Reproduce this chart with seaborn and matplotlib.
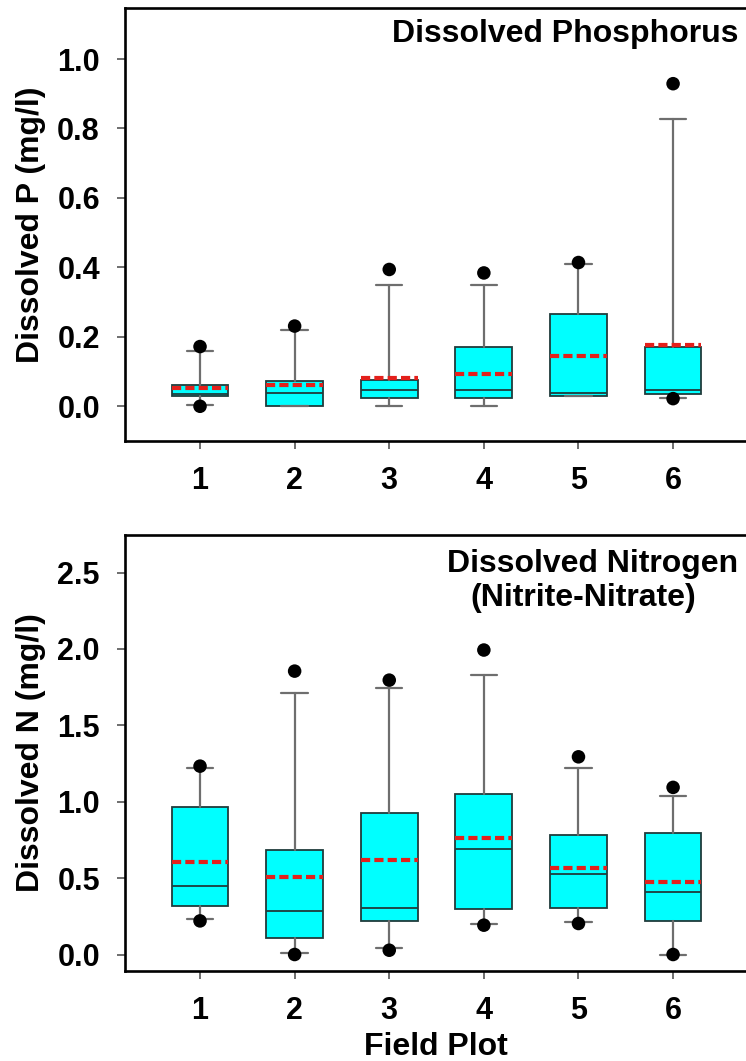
import matplotlib
matplotlib.use("Agg")
import matplotlib.pyplot as plt
import numpy as np
import pandas as pd
import seaborn as sns

plots = [1, 2, 3, 4, 5, 6]

# Dissolved P (mg/l)
p_q1 = [0.030, 0.000, 0.024, 0.024, 0.030, 0.034]
p_med = [0.034, 0.039, 0.046, 0.046, 0.039, 0.046]
p_q3 = [0.062, 0.072, 0.075, 0.171, 0.266, 0.171]
p_mean = [0.053, 0.060, 0.081, 0.093, 0.144, 0.177]
p_wlo = [0.005, 0.000, 0.000, 0.000, 0.030, 0.025]
p_whi = [0.160, 0.220, 0.348, 0.348, 0.409, 0.828]
p_lo_dots = [0.000, None, None, None, None, 0.022]
p_hi_dots = [0.172, 0.231, 0.394, 0.384, 0.414, 0.929]

# Dissolved N (mg/l)
n_q1 = [0.318, 0.109, 0.220, 0.295, 0.305, 0.220]
n_med = [0.449, 0.288, 0.305, 0.690, 0.530, 0.406]
n_q3 = [0.965, 0.687, 0.927, 1.050, 0.781, 0.794]
n_mean = [0.604, 0.506, 0.618, 0.762, 0.567, 0.473]
n_wlo = [0.231, 0.013, 0.043, 0.198, 0.210, 0.000]
n_whi = [1.222, 1.713, 1.746, 1.829, 1.218, 1.039]
n_lo_dots = [0.220, 0.000, 0.028, 0.192, 0.203, 0.000]
n_hi_dots = [1.233, 1.855, 1.796, 1.993, 1.294, 1.094]

sns.set_theme(style="ticks")
plt.rcParams['font.family'] = ['Liberation Sans', 'DejaVu Sans']
plt.rcParams['font.weight'] = 'bold'
plt.rcParams['text.color'] = 'black'
plt.rcParams['axes.labelcolor'] = 'black'
FS = 22    # tick labels
LFS = 23   # axis labels and titles


def make_stats(q1, med, q3, mean, wlo, whi):
    return [dict(q1=a, med=b, q3=c, mean=d, whislo=e, whishi=f, fliers=[])
            for a, b, c, d, e, f in zip(q1, med, q3, mean, wlo, whi)]


def dots_frame(lo, hi):
    rows = []
    for x, v in zip(plots, lo):
        if v is not None:
            rows.append((x, v))
    for x, v in zip(plots, hi):
        if v is not None:
            rows.append((x, v))
    return pd.DataFrame(rows, columns=['plot', 'value'])


def draw_panel(ax, stats, dots, ylim, yticks, ylabel):
    ax.bxp(stats, positions=plots, widths=0.6, capwidths=0.28,
           patch_artist=True, showmeans=True, meanline=True, showfliers=False,
           boxprops=dict(facecolor='#00ffff', edgecolor='#203c3c', linewidth=1.3),
           medianprops=dict(color='#203c3c', linewidth=1.3),
           whiskerprops=dict(color='#6e6e6e', linewidth=1.6),
           capprops=dict(color='#6e6e6e', linewidth=1.6),
           meanprops=dict(color='#e3201b', linewidth=3.0, linestyle=(0, (2.2, 1.0))))
    sns.scatterplot(data=dots, x='plot', y='value', ax=ax, color='black',
                    s=95, edgecolor='none', zorder=5)
    ax.set_xlim(0.207, 7.5)
    ax.set_ylim(*ylim)
    ax.set_yticks(yticks)
    ax.set_yticklabels(['%.1f' % t for t in yticks])
    ax.set_xticks(plots)
    ax.set_xticklabels([str(p) for p in plots])
    ax.tick_params(axis='both', labelsize=FS, length=6, width=1.2,
                   color='#555555', labelcolor='black', pad=12)
    for lbl in ax.get_xticklabels() + ax.get_yticklabels():
        lbl.set_fontweight('bold')
    for s in ax.spines.values():
        s.set_linewidth(1.9)
        s.set_color('black')
    ax.set_xlabel('')
    ax.set_ylabel(ylabel, fontsize=LFS, fontweight='bold')
    ax.yaxis.set_label_coords(-0.115, 0.5)


fig = plt.figure(figsize=(7.46, 10.61), dpi=100)
W, H = 746.0, 1061.0

ax1 = fig.add_axes([125 / W, 1 - 441 / H, 690 / W, 433 / H])
draw_panel(ax1, make_stats(p_q1, p_med, p_q3, p_mean, p_wlo, p_whi),
           dots_frame(p_lo_dots, p_hi_dots), (-0.1, 1.147),
           [0.0, 0.2, 0.4, 0.6, 0.8, 1.0], 'Dissolved P (mg/l)')

ax2 = fig.add_axes([125 / W, 1 - 970.7 / H, 690 / W, 435.7 / H])
draw_panel(ax2, make_stats(n_q1, n_med, n_q3, n_mean, n_wlo, n_whi),
           dots_frame(n_lo_dots, n_hi_dots), (-0.106, 2.746),
           [0.0, 0.5, 1.0, 1.5, 2.0, 2.5], 'Dissolved N (mg/l)')

fig.text(739 / W, 1 - 42 / H, 'Dissolved Phosphorus', ha='right', va='baseline',
         fontsize=LFS, fontweight='bold')
fig.text(738 / W, 1 - 572 / H, 'Dissolved Nitrogen', ha='right', va='baseline',
         fontsize=LFS, fontweight='bold')
fig.text(583 / W, 1 - 606 / H, '(Nitrite-Nitrate)', ha='center', va='baseline',
         fontsize=LFS, fontweight='bold')
fig.text(436 / W, 1 - 1047 / H, 'Field Plot', ha='center', va='center',
         fontsize=LFS, fontweight='bold')

fig.savefig('out.png', dpi=100)
